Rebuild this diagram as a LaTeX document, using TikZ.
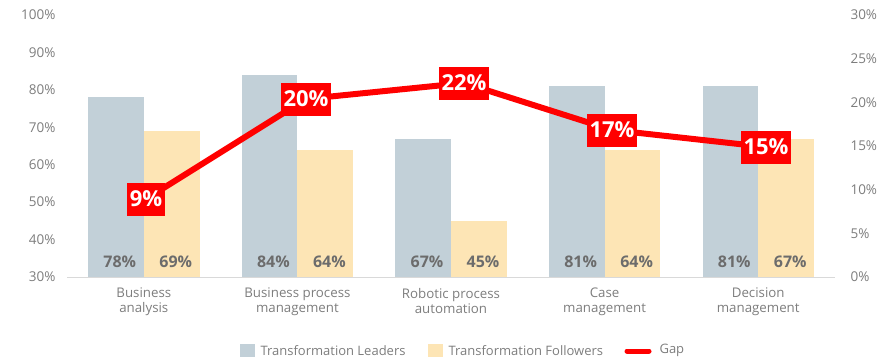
\documentclass[tikz,border=0pt]{standalone}
\usepackage{fontspec}
\setmainfont{Open Sans}
\definecolor{bar_lead}{RGB}{194, 208, 216}
\definecolor{bar_follow}{RGB}{253, 229, 181}
\definecolor{gap_red}{RGB}{255, 0, 0}
\definecolor{axis_grey}{RGB}{125, 125, 125}
\definecolor{value_grey}{RGB}{108, 108, 108}
\definecolor{rule_grey}{RGB}{217, 217, 217}
\usepackage{tikz}
\usetikzlibrary{positioning}

\begin{document}
\begin{tikzpicture}[x=1pt, y=-1pt,
        tick/.style={font=\fontsize{13.5}{14}\selectfont, color=axis_grey},
        cat/.style={align=center, font=\fontsize{13.3}{15}\selectfont, color=axis_grey},
        val/.style={font=\fontsize{16}{16}\selectfont\bfseries, color=value_grey},
        gaplabel/.style={fill=gap_red, text=white, inner xsep=3pt, minimum height=33,
                         font=\fontsize{22}{22}\selectfont\bfseries},
        legtext/.style={font=\fontsize{13}{13}\selectfont, color=axis_grey, anchor=west},
      ]
        \useasboundingbox (0, 0) rectangle (896, 359);

        % left and right scales
        \foreach \v [count=\k from 0] in {30, 40, 50, 60, 70, 80, 90, 100}
          \node[tick, anchor=east] (ltick\k) at (59, 277 - \k*37.43) {\v\%};
        \foreach \v [count=\k from 0] in {0, 5, 10, 15, 20, 25, 30}
          \node[tick, anchor=west] (rtick\k) at (847, 277 - \k*43.67) {\v\%};

        % bars
        \foreach \i/\lead/\foll/\name in {1/78/69/{Business\\analysis},
                                          2/84/64/{Business process\\management},
                                          3/67/45/{Robotic process\\automation},
                                          4/81/64/{Case\\management},
                                          5/81/67/{Decision\\management}} {
          \pgfmathsetmacro{\cx}{67 + 153.6*(\i - 0.5)}
          \pgfmathsetmacro{\ylead}{277 - (\lead - 30)*3.743}
          \pgfmathsetmacro{\yfoll}{277 - (\foll - 30)*3.743}
          \fill[bar_lead] (\cx - 55.7, 277) rectangle (\cx, \ylead);
          \fill[bar_follow] (\cx, 277) rectangle (\cx + 55.7, \yfoll);
          \node[val] (lead\i) at (\cx - 24, 262) {\lead\%};
          \node[val] (foll\i) at (\cx + 32, 262) {\foll\%};
          \node[cat] (cat\i) at (\cx, 301.5) {\name};
        }

        \draw[rule_grey, line width=1] (67, 277) -- (835, 277);

        % gap line (points at the label centres)
        \coordinate (gap1) at (146, 199);
        \coordinate (gap2) at (306, 99);
        \coordinate (gap3) at (464, 83);
        \coordinate (gap4) at (612, 130);
        \coordinate (gap5) at (766, 147);
        \draw[gap_red, line width=6, line join=round]
          (gap1) -- (gap2) -- (gap3) -- (gap4) -- (gap5);
        \foreach \i/\g in {1/9, 2/20, 3/22, 4/17, 5/15}
          \node[gaplabel] (gaplab\i) at (gap\i) {\g\%};

        % legend
        \fill[bar_lead] (240, 344) rectangle (255, 357);
        \node[legtext] (legLead) at (257, 350.5) {Transformation Leaders};
        \fill[bar_follow] (428, 344) rectangle (443, 357);
        \node[legtext] (legFollow) at (445, 350.5) {Transformation Followers};
        \coordinate (legGapA) at (627, 351);
        \coordinate (legGapB) at (649, 351);
        \draw[gap_red, line width=5, line cap=round] (legGapA) -- (legGapB);
        \node[legtext] (legGap) at (656, 350.5) {Gap};
      \end{tikzpicture}
\end{document}
